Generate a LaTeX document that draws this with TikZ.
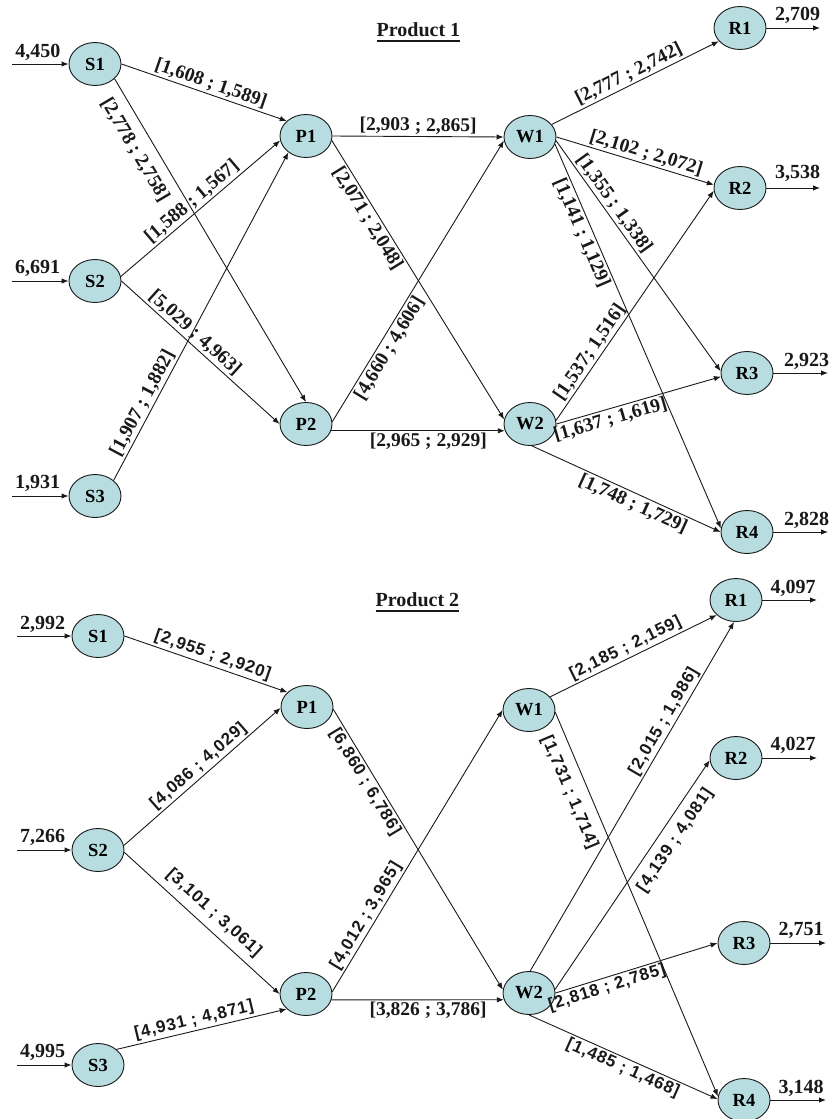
\documentclass[tikz,border=0pt]{standalone}
\usepackage{fontspec}
\setmainfont{Liberation Serif}
\newfontfamily\serifw{Liberation Serif}
\newfontfamily\sansw{Liberation Sans}[LetterSpace=5]
\usetikzlibrary{arrows.meta,shapes.geometric}
\definecolor{nodefill}{RGB}{183,221,224}
\definecolor{ink}{RGB}{25,25,25}
\tikzset{
  fac/.style={ellipse, draw=ink, line width=0.9pt, fill=nodefill,
    minimum width=52pt, minimum height=43pt, inner sep=0pt,
    font=\serifw\bfseries\fontsize{18.5}{20}\selectfont},
  flow/.style={draw=ink, line width=0.9pt, -{Latex[length=7pt,width=5.5pt]}},
  lab/.style={sloped, inner sep=2pt, text=ink, font=\serifw\bfseries\fontsize{19.5}{21}\selectfont},
  labs/.style={sloped, inner sep=2pt, text=ink, font=\sansw\bfseries\fontsize{17}{19}\selectfont},
  qty/.style={anchor=base, inner sep=0pt, text=ink, font=\serifw\bfseries\fontsize{20}{22}\selectfont},
  ttl/.style={anchor=base, inner sep=0pt, text=ink, font=\serifw\bfseries\fontsize{20}{22}\selectfont},
}
\begin{document}
\begin{tikzpicture}[x=1pt,y=-1pt]
\useasboundingbox (0,0) rectangle (828,1119);
\clip (0,0) rectangle (828,1119);

% ---------------- Product 1 ----------------
\node[ttl] (t1) at (418.5,36) {Product 1};
\draw[ink, line width=2pt] ([yshift=-4.5pt]t1.base west) -- ([yshift=-4.5pt]t1.base east);

\node[fac] (aS1) at (95,64)  {S1};
\node[fac] (aS2) at (95,281) {S2};
\node[fac] (aS3) at (95,496) {S3};
\node[fac] (aP1) at (306,136) {P1};
\node[fac] (aP2) at (306,424) {P2};
\node[fac] (aW1) at (530,137) {W1};
\node[fac] (aW2) at (530,424) {W2};
\node[fac] (aR1) at (740,28)  {R1};
\node[fac] (aR2) at (740,188) {R2};
\node[fac] (aR3) at (747,373) {R3};
\node[fac] (aR4) at (747,532) {R4};

% supplies entering
\coordinate (aI1) at (12,64);
\coordinate (aI2) at (12,281);
\coordinate (aI3) at (12,496);
\draw[flow] (aI1) -- (aS1.west);
\draw[flow] (aI2) -- (aS2.west);
\draw[flow] (aI3) -- (aS3.west);
\node[qty] (aq1) at (38,57.5) {4,450};
\node[qty] (aq2) at (37.5,273) {6,691};
\node[qty] (aq3) at (37.5,488.5) {1,931};

% demands leaving
\coordinate (aO1) at (820,28);
\coordinate (aO2) at (820,188);
\coordinate (aO3) at (828,373);
\coordinate (aO4) at (828,532);
\draw[flow] (aR1.east) -- (aO1);
\draw[flow] (aR2.east) -- (aO2);
\draw[flow] (aR3.east) -- (aO3);
\draw[flow] (aR4.east) -- (aO4);
\node[qty] (ad1) at (797.5,20) {2,709};
\node[qty] (ad2) at (797.5,178) {3,538};
\node[qty] (ad3) at (806.5,366.5) {2,923};
\node[qty] (ad4) at (806.5,525) {2,828};

% flows
\draw[flow] (aS1.0) -- node[lab,above,pos=.52] {[1,608 ; 1,589]} (aP1.142);
\draw[flow] (aS1.-37) -- node[lab,below=8pt,pos=.19] {[2,778 ; 2,758]} (aP2.90);
\draw[flow] (aS2.10) -- node[lab,above,pos=.49] {[1,588 ; 1,567]} (aP1.190);
\draw[flow] (aS2.0) -- node[lab,above,pos=.42] {[5,029 ; 4,963]} (aP2.180);
\draw[flow] (aS3.40) -- node[lab,above,pos=.22] {[1,907 ; 1,882]} (aP1.223);
\draw[flow] (aP1.0) -- node[lab,above,pos=.5] {[2,903 ; 2,865]} (aW1.180);
\draw[flow] (aP1.-10) -- node[lab,below,pos=.26] {[2,071 ; 2,048]} (aW2.170);
\draw[flow] (aP2.5) -- node[lab,below,pos=.28] {[4,660 ; 4,606]} (aW1.188);
\draw[flow] (aP2.-15) -- node[lab,below,pos=.56] {[2,965 ; 2,929]} (aW2.195);
\draw[flow] (aW1.30) -- node[lab,above,pos=.49] {[2,777 ; 2,742]} (aR1.212);
\draw[flow] (aW1.0) -- node[lab,above,pos=.55] {[2,102 ; 2,072]} (aR2.173);
\draw[flow] (aW1.-8) -- node[lab,above,pos=.30] {[1,355 ; 1,338]} (aR3.176);
\draw[flow] (aW1.-16) -- node[lab,below,pos=.22] {[1,141 ; 1,129]} (aR4.172);
\draw[flow] (aW2.8) -- node[lab,above,pos=.27] {[1,537; 1,516]} (aR2.186);
\draw[flow] (aW2.0) -- node[lab,below,pos=.31] {[1,637 ; 1,619]} (aR3.188);
\draw[flow] (aW2.-85) -- node[lab,below,pos=.56] {[1,748 ; 1,729]} (aR4.180);

% ---------------- Product 2 ----------------
\node[ttl] (t2) at (417.5,606) {Product 2};
\draw[ink, line width=2pt] ([yshift=-4.5pt]t2.base west) -- ([yshift=-4.5pt]t2.base east);

\node[fac] (bS1) at (98,636)  {S1};
\node[fac] (bS2) at (98,850)  {S2};
\node[fac] (bS3) at (98,1065) {S3};
\node[fac] (bP1) at (307,707) {P1};
\node[fac] (bP2) at (306,994) {P2};
\node[fac] (bW1) at (529,710) {W1};
\node[fac] (bW2) at (529,993) {W2};
\node[fac] (bR1) at (736,600) {R1};
\node[fac] (bR2) at (736,758) {R2};
\node[fac] (bR3) at (744,943) {R3};
\node[fac] (bR4) at (744,1100) {R4};

\coordinate (bI1) at (17,636);
\coordinate (bI2) at (17,850);
\coordinate (bI3) at (17,1065);
\draw[flow] (bI1) -- (bS1.west);
\draw[flow] (bI2) -- (bS2.west);
\draw[flow] (bI3) -- (bS3.west);
\node[qty] (bq1) at (42.5,629) {2,992};
\node[qty] (bq2) at (42.5,842) {7,266};
\node[qty] (bq3) at (42.5,1057) {4,995};

\coordinate (bO1) at (817,600);
\coordinate (bO2) at (817,758);
\coordinate (bO3) at (826,943);
\coordinate (bO4) at (826,1100);
\draw[flow] (bR1.east) -- (bO1);
\draw[flow] (bR2.east) -- (bO2);
\draw[flow] (bR3.east) -- (bO3);
\draw[flow] (bR4.east) -- (bO4);
\node[qty] (bd1) at (793,593) {4,097};
\node[qty] (bd2) at (793,750) {4,027};
\node[qty] (bd3) at (801,935) {2,751};
\node[qty] (bd4) at (801,1093) {3,148};

\draw[flow] (bS1.0) -- node[labs,above,pos=.52] {[2,955 ; 2,920]} (bP1.143);
\draw[flow] (bS2.10) -- node[labs,above,pos=.52] {[4,086 ; 4,029]} (bP1.182);
\draw[flow] (bS2.-5) -- node[labs,above=5pt,pos=.51] {[3,101 ; 3,061]} (bP2.180);
\draw[flow] (bS3.40) -- node[labs,above,pos=.47] {[4,931 ; 4,871]} (bP2.218);
\draw[flow] (bP1.-5) -- node[labs,below,pos=.24] {[6,860 ; 6,786]} (bW2.173);
\draw[flow] (bP2.5) -- node[labs,above,pos=.25] {[4,012 ; 3,965]} (bW1.180);
\draw[flow] (bP2.-13) -- node[lab,below,pos=.56] {[3,826 ; 3,786]} (bW2.195);
\draw[flow] (bW1.32) -- node[labs,above,pos=.48] {[2,185 ; 2,159]} (bR1.218);
\draw[flow] (bW1.-5) -- node[labs,below=8pt,pos=.19] {[1,731 ; 1,714]} (bR4.172);
\draw[flow] (bW2.87) -- node[labs,above,pos=.70] {[2,015 ; 1,986]} (bR1.265);
\draw[flow] (bW2.8) -- node[labs,below=6pt,pos=.69] {[4,139 ; 4,081]} (bR2.185);
\draw[flow] (bW2.0) -- node[labs,below,pos=.30] {[2,818 ; 2,785]} (bR3.180);
\draw[flow] (bW2.-90) -- node[labs,below,pos=.52] {[1,485 ; 1,468]} (bR4.178);
\end{tikzpicture}
\end{document}
